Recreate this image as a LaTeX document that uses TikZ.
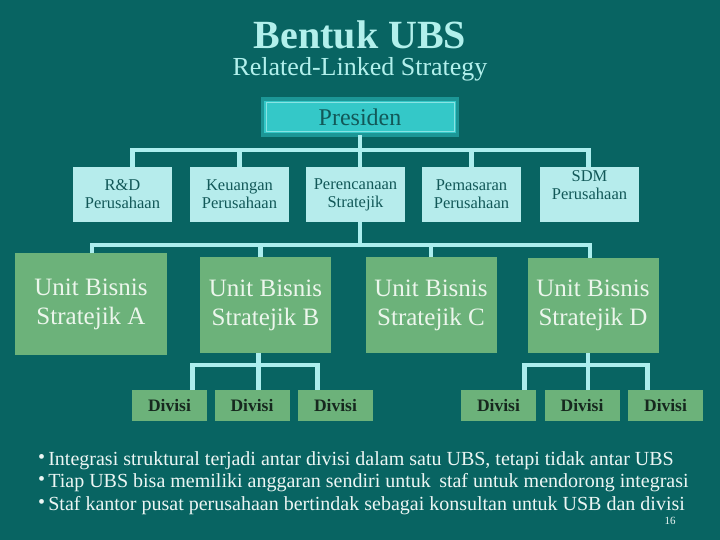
\documentclass[tikz,border=0pt]{standalone}
\usepackage{fontspec}
\setmainfont{Liberation Serif}
\usepackage{tikz}

\definecolor{slidebg}{RGB}{8,100,98}
\definecolor{titlecol}{RGB}{178,240,236}
\definecolor{linkcol}{RGB}{172,238,238}
\definecolor{topfill}{RGB}{182,236,236}
\definecolor{toptext}{RGB}{18,88,88}
\definecolor{presfill}{RGB}{52,200,200}
\definecolor{presedge}{RGB}{28,150,150}
\definecolor{ubsfill}{RGB}{108,178,122}
\definecolor{ubstext}{RGB}{236,246,236}
\definecolor{divtext}{RGB}{22,40,30}
\definecolor{notetext}{RGB}{236,246,244}

\begin{document}
\begin{tikzpicture}[x=1pt,y=-1pt,
  every node/.style={outer sep=0pt, inner sep=0pt, align=center},
  topbox/.style={fill=topfill, text=toptext, minimum width=99pt, minimum height=55pt, font=\fontsize{16.5}{18}\selectfont},
  ubsbox/.style={fill=ubsfill, text=ubstext, minimum width=131pt, minimum height=96pt, font=\fontsize{25}{29}\selectfont},
  divbox/.style={fill=ubsfill, text=divtext, minimum width=75pt, minimum height=31pt, font=\fontsize{17.5}{20}\selectfont\bfseries},
  note/.style={text=notetext, anchor=base west, font=\fontsize{20}{22}\selectfont},
  link/.style={draw=linkcol, line width=4.5pt}]
\fill[slidebg] (0,0) rectangle (720,540);
\useasboundingbox (0,0) rectangle (720,540);

% judul
\node[text=titlecol, anchor=base, font=\fontsize{40}{42}\selectfont\bfseries] (title) at (360,49) {Bentuk UBS};
\node[text=titlecol, anchor=base, font=\fontsize{26}{28}\selectfont] (subtitle) at (360,76) {Related-Linked Strategy};

% presiden
\node[fill=presfill, draw=presedge, line width=3.5pt, minimum width=195pt, minimum height=36pt,
  text=toptext, font=\fontsize{24}{26}\selectfont] (pres) at (360,117) {Presiden};
\draw[linkcol!70!presfill, line width=0.8pt] ([shift={(3.5,3.5)}]pres.north west) rectangle ([shift={(-3.5,-3.5)}]pres.south east);

% staf kantor pusat
\node[topbox] (rd) at (122.5,194.5) {R\&D\\Perusahaan};
\node[topbox] (keu) at (239.5,194.5) {Keuangan\\Perusahaan};
\node[topbox] (plan) at (355.5,194.5) {Perencanaan\\Stratejik};
\node[topbox] (pem) at (471.5,194.5) {Pemasaran\\Perusahaan};
\node[topbox, text depth=18pt] (sdm) at (589.5,194.5) {SDM\\Perusahaan};

% unit bisnis
\node[ubsbox, minimum width=152pt, minimum height=102pt] (ubsA) at (91,304) {Unit Bisnis\\Stratejik A};
\node[ubsbox] (ubsB) at (265.5,305) {Unit Bisnis\\Stratejik B};
\node[ubsbox] (ubsC) at (431,305) {Unit Bisnis\\Stratejik C};
\node[ubsbox, minimum height=95pt] (ubsD) at (593,305.5) {Unit Bisnis\\Stratejik D};

% divisi
\node[divbox] (div1) at (169.5,405.5) {Divisi};
\node[divbox] (div2) at (252,405.5) {Divisi};
\node[divbox] (div3) at (335.5,405.5) {Divisi};
\node[divbox] (div4) at (498.5,405.5) {Divisi};
\node[divbox] (div5) at (582,405.5) {Divisi};
\node[divbox] (div6) at (665.5,405.5) {Divisi};

% garis
\coordinate (bar1) at (360,150);
\coordinate (bar2) at (360,245);
\draw[link] (pres.south) -- (bar1) -- (bar1 |- plan.north);
\draw[link] ([xshift=10pt]rd.north) |- (bar1) -| ([xshift=-1pt]sdm.north);
\draw[link] (keu.north) -- (keu.north |- bar1);
\draw[link] (pem.north) -- (pem.north |- bar1);

\draw[link] (bar2 |- plan.south) -- (bar2);
\draw[link] ([xshift=1pt]ubsA.north) |- (bar2) -| ([xshift=-3pt]ubsD.north);
\draw[link] ([xshift=-5pt]ubsB.north) -- ([xshift=-5pt]ubsB.north |- bar2);
\draw[link] (ubsC.north) -- (ubsC.north |- bar2);

\draw[link] ([xshift=-7pt]ubsB.south) -- ++(0,12) coordinate (bar3);
\draw[link] ([xshift=23pt]div1.north) |- (bar3) -| ([xshift=-18pt]div3.north);
\draw[link] (bar3) -- (bar3 |- div2.north);

\draw[link] ([xshift=-5pt]ubsD.south) -- ++(0,12) coordinate (bar4);
\draw[link] ([xshift=26pt]div4.north) |- (bar4) -| ([xshift=-18pt]div6.north);
\draw[link] (bar4) -- (bar4 |- div5.north);

% catatan
\node[note] (note1) at (38,465) {\raisebox{2pt}{\textbullet}\,Integrasi struktural terjadi antar divisi dalam satu UBS, tetapi tidak antar UBS};
\node[note] (note2) at (38,487.5) {\raisebox{2pt}{\textbullet}\,Tiap UBS bisa memiliki anggaran sendiri untuk\, staf untuk mendorong integrasi};
\node[note] (note3) at (38,510) {\raisebox{2pt}{\textbullet}\,Staf kantor pusat perusahaan bertindak sebagai konsultan untuk USB dan divisi};
\node[text=notetext, font=\fontsize{11}{12}\selectfont] (pageno) at (670,521) {16};
\end{tikzpicture}
\end{document}
